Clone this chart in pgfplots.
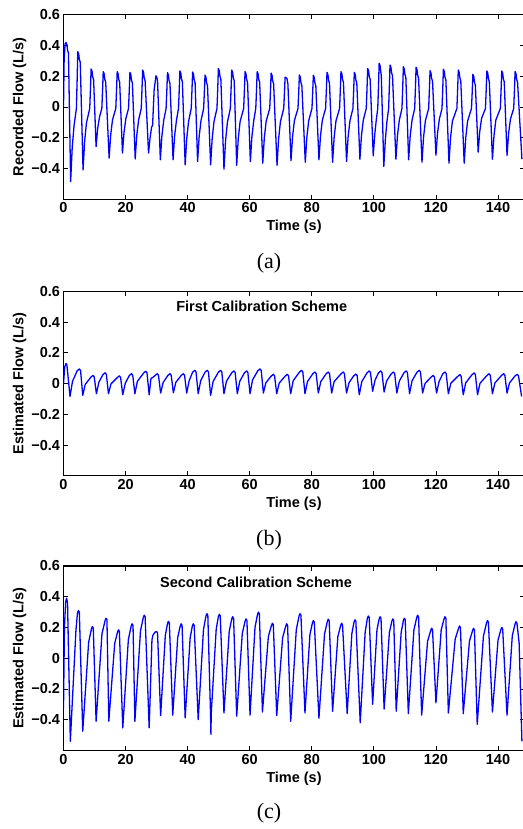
\documentclass[border=0pt]{standalone}
\usepackage{fontspec}
\setmainfont{Liberation Sans}
\newfontfamily\serifcap{Liberation Serif}
\usepackage{pgfplots}
\pgfplotsset{compat=1.18}
\pgfplotsset{flowax/.style={
  scale only axis, width=460.9pt, height=184.5pt,
  xmin=0, xmax=148.5, ymin=-0.6, ymax=0.6,
  xtick={0,20,...,140}, xticklabels={0,20,40,60,80,100,120,140},
  ytick={-0.4,-0.2,0,0.2,0.4,0.6}, yticklabels={−0.4,−0.2,0,0.2,0.4,0.6},
  tick align=inside, tick pos=both, ticklabel pos=left,
  major tick length=4.5pt,
  tick style={black, line width=0.8pt},
  axis line style={line width=1.1pt},
  tick label style={font=\bfseries\fontsize{14.5}{16}\selectfont},
  label style={font=\bfseries\fontsize{14.5}{16}\selectfont},
  xlabel={Time (s)},
  xlabel style={at={(axis description cs:0.5,-0.152)}, anchor=center},
  ylabel style={at={(axis description cs:-0.095,0.5)}, anchor=center},
  clip mode=individual,
  anchor=north west,
}}
\begin{document}
\begin{tikzpicture}
% ---------------- (a)
\begin{axis}[flowax, at={(63.5pt,-14.7pt)}, ylabel={Recorded Flow (L/s)}]
\addplot[blue, line width=1.3pt, line join=round] coordinates {
(0,0) (0.2,0.30) (0.5,0.41) (0.8,0.42) (1.1,0.405) (1.3,0.37) (1.6,0.35) (2.3,-0.485) (2.8,-0.267) (3.4,-0.121) (4.15,-0.01) (4.4,0.18)
(4.6,0.36) (4.9,0.345) (5.1,0.31) (5.4,0.29) (6.3,-0.41) (6.8,-0.226) (7.4,-0.103) (8.45,-0.01) (8.7,0.124)
(8.9,0.247) (9.2,0.232) (9.4,0.197) (9.7,0.177) (10.5,-0.258) (11.0,-0.142) (11.6,-0.065) (12.35,-0.01) (12.6,0.115)
(12.8,0.23) (13.1,0.215) (13.3,0.18) (13.6,0.16) (14.7,-0.333) (15.2,-0.183) (15.8,-0.083) (16.85,-0.01) (17.1,0.115)
(17.3,0.23) (17.6,0.215) (17.8,0.18) (18.1,0.16) (19.0,-0.30) (19.5,-0.165) (20.1,-0.075) (20.95,-0.01) (21.2,0.113)
(21.4,0.225) (21.7,0.21) (21.9,0.175) (22.2,0.155) (23.1,-0.338) (23.6,-0.186) (24.2,-0.085) (25.05,-0.01) (25.3,0.12)
(25.5,0.24) (25.8,0.225) (26.0,0.19) (26.3,0.17) (27.4,-0.30) (27.9,-0.2) (28.4,-0.13) (28.7,-0.12) (29.2,0.11)
(29.8,0.203) (30.1,0.19) (30.3,0.17) (31.2,-0.344) (31.7,-0.189) (32.3,-0.086) (33.05,-0.01) (33.3,0.11)
(33.5,0.223) (33.8,0.208) (34.0,0.173) (34.3,0.153) (35.3,-0.344) (35.8,-0.189) (36.4,-0.086) (37.05,-0.01) (37.3,0.117)
(37.5,0.234) (37.8,0.219) (38.0,0.184) (38.3,0.164) (39.2,-0.377) (39.7,-0.207) (40.3,-0.094) (41.15,-0.01) (41.4,0.113)
(41.6,0.227) (41.9,0.212) (42.1,0.177) (42.4,0.157) (43.2,-0.355) (43.7,-0.195) (44.3,-0.089) (45.15,-0.01) (45.4,0.104)
(45.6,0.208) (45.9,0.193) (46.1,0.158) (46.4,0.138) (47.4,-0.377) (47.9,-0.207) (48.5,-0.094) (49.45,-0.01) (49.7,0.125)
(49.9,0.25) (50.2,0.235) (50.4,0.20) (50.7,0.18) (51.7,-0.405) (52.2,-0.223) (52.8,-0.101) (53.75,-0.01) (54.0,0.12)
(54.2,0.24) (54.5,0.225) (54.7,0.19) (55.0,0.17) (55.8,-0.38) (56.3,-0.209) (56.9,-0.095) (58.05,-0.01) (58.3,0.115)
(58.5,0.23) (58.8,0.215) (59.0,0.18) (59.3,0.16) (60.2,-0.355) (60.7,-0.195) (61.3,-0.089) (61.95,-0.01) (62.2,0.115)
(62.4,0.23) (62.7,0.215) (62.9,0.18) (63.2,0.16) (64.2,-0.366) (64.7,-0.201) (65.3,-0.092) (66.45,-0.01) (66.7,0.11)
(66.9,0.22) (67.2,0.205) (67.4,0.17) (67.7,0.15) (68.8,-0.38) (69.3,-0.209) (69.9,-0.095) (70.95,-0.01) (71.2,0.097)
(71.4,0.193) (71.7,0.19) (72.0,0.185) (72.3,0.15) (73.3,-0.35) (73.8,-0.193) (74.4,-0.088) (75.55,-0.01) (75.8,0.104)
(76.0,0.208) (76.3,0.193) (76.5,0.158) (76.8,0.138) (77.9,-0.36) (78.4,-0.198) (79.0,-0.09) (80.05,-0.01) (80.3,0.103)
(80.5,0.206) (80.8,0.191) (81.0,0.156) (81.3,0.136) (82.3,-0.344) (82.8,-0.189) (83.4,-0.086) (84.45,-0.01) (84.7,0.113)
(84.9,0.225) (85.2,0.21) (85.4,0.175) (85.7,0.155) (86.7,-0.36) (87.2,-0.198) (87.8,-0.09) (88.95,-0.01) (89.2,0.115)
(89.4,0.23) (89.7,0.215) (89.9,0.18) (90.2,0.16) (91.2,-0.355) (91.7,-0.195) (92.3,-0.089) (93.25,-0.01) (93.5,0.113)
(93.7,0.225) (94.0,0.21) (94.2,0.175) (94.5,0.155) (95.5,-0.34) (96.0,-0.187) (96.6,-0.085) (97.55,-0.01) (97.8,0.125)
(98.0,0.25) (98.3,0.235) (98.5,0.20) (98.8,0.18) (99.8,-0.318) (100.3,-0.175) (100.8,-0.08) (101.25,-0.01) (101.5,0.142)
(101.7,0.284) (102.0,0.269) (102.4,0.2) (103.2,-0.387) (103.7,-0.213) (104.2,-0.097) (104.75,-0.01) (105.0,0.137)
(105.2,0.273) (105.5,0.258) (105.7,0.223) (106.0,0.203) (107.1,-0.34) (107.6,-0.187) (108.2,-0.085) (109.05,-0.01) (109.3,0.131)
(109.5,0.262) (109.8,0.247) (110.0,0.212) (110.3,0.192) (111.2,-0.344) (111.7,-0.189) (112.3,-0.086) (113.15,-0.01) (113.4,0.129)
(113.6,0.258) (113.9,0.243) (114.1,0.208) (114.4,0.188) (115.5,-0.36) (116.0,-0.198) (116.6,-0.09) (117.65,-0.01) (117.9,0.118)
(118.1,0.236) (118.4,0.221) (118.6,0.186) (118.9,0.166) (120.0,-0.314) (120.5,-0.173) (121.1,-0.079) (121.95,-0.01) (122.2,0.123)
(122.4,0.245) (122.7,0.23) (122.9,0.195) (123.2,0.175) (124.2,-0.366) (124.7,-0.201) (125.3,-0.092) (126.75,-0.01) (127.0,0.12)
(127.2,0.24) (127.5,0.225) (127.7,0.19) (128.0,0.17) (129.1,-0.366) (129.6,-0.201) (130.2,-0.092) (131.45,-0.01) (131.7,0.106)
(131.9,0.212) (132.2,0.197) (132.4,0.162) (132.7,0.142) (133.6,-0.294) (134.1,-0.162) (134.7,-0.074) (135.95,-0.01) (136.2,0.117)
(136.4,0.234) (136.7,0.219) (136.9,0.184) (137.2,0.164) (138.2,-0.34) (138.7,-0.187) (139.3,-0.085) (140.75,-0.01) (141.0,0.117)
(141.2,0.234) (141.5,0.219) (141.7,0.184) (142.0,0.164) (142.9,-0.316) (143.4,-0.174) (144.0,-0.079) (145.05,-0.01) (145.3,0.115)
(145.5,0.23) (145.8,0.215) (146.0,0.18) (146.3,0.16) (147.7,-0.34)
};
\node[font=\serifcap\fontsize{22}{24}\selectfont] at (axis description cs:0.446,-0.347) {(a)};
\end{axis}
% ---------------- (b)
\begin{axis}[flowax, at={(63.5pt,-291.3pt)}, ylabel={Estimated Flow (L/s)}]
\addplot[blue, line width=1.3pt, line join=round] coordinates {
(0,0.0) (0.4,0.11) (0.8,0.13) (1.1,0.12) (2.1,-0.084)
(2.9,0.014) (4.4,0.083) (5.1,0.095) (5.5,0.085) (6.2,-0.077)
(7.0,-0.006) (8.8,0.041) (9.5,0.053) (9.9,0.043) (10.6,-0.066)
(11.4,0.009) (12.7,0.058) (13.4,0.07) (13.8,0.06) (14.5,-0.066)
(15.3,-0.002) (17.3,0.038) (18.0,0.05) (18.4,0.04) (19.1,-0.073)
(19.9,0.002) (21.2,0.052) (21.9,0.064) (22.3,0.054) (23.0,-0.066)
(23.8,0.014) (25.8,0.068) (26.5,0.08) (26.9,0.07) (27.6,-0.073)
(28.2,0.035) (28.6,0.037) (29.5,0.052) (30.2,0.064) (30.6,0.054) (31.3,-0.062)
(32.1,0.007) (33.6,0.052) (34.3,0.064) (34.7,0.054) (35.4,-0.06)
(36.2,0.008) (37.9,0.052) (38.6,0.064) (39.0,0.054) (39.7,-0.062)
(40.5,0.019) (41.6,0.074) (42.3,0.086) (42.7,0.076) (43.4,-0.066)
(44.2,0.018) (45.6,0.074) (46.3,0.086) (46.7,0.076) (47.4,-0.077)
(48.2,0.013) (49.9,0.074) (50.6,0.086) (51.0,0.076) (51.7,-0.066)
(52.5,0.015) (54.2,0.07) (54.9,0.082) (55.3,0.072) (56.0,-0.066)
(56.8,0.015) (58.3,0.07) (59.0,0.082) (59.4,0.072) (60.1,-0.066)
(60.9,0.023) (62.6,0.083) (63.3,0.095) (63.7,0.085) (64.4,-0.062)
(65.2,0.005) (66.9,0.048) (67.6,0.06) (68.0,0.05) (68.7,-0.066)
(69.5,0.003) (71.4,0.048) (72.1,0.06) (72.5,0.05) (73.2,-0.066)
(74.0,0.018) (76.0,0.074) (76.7,0.086) (77.1,0.076) (77.8,-0.066)
(78.6,0.012) (80.3,0.063) (81.0,0.075) (81.4,0.065) (82.1,-0.062)
(82.9,0.013) (84.6,0.063) (85.3,0.075) (85.7,0.065) (86.4,-0.062)
(87.2,0.013) (89.4,0.063) (90.1,0.075) (90.5,0.065) (91.2,-0.062)
(92.0,0.006) (93.5,0.05) (94.2,0.062) (94.6,0.052) (95.3,-0.073)
(96.1,0.012) (97.8,0.07) (98.5,0.082) (98.9,0.072) (99.6,-0.05)
(100.4,0.023) (101.5,0.07) (102.2,0.082) (102.6,0.072) (103.3,-0.055)
(104.1,0.017) (105.6,0.063) (106.3,0.075) (106.7,0.065) (107.4,-0.062)
(108.2,0.016) (109.7,0.07) (110.4,0.082) (110.8,0.072) (111.5,-0.066)
(112.3,0.018) (113.9,0.074) (114.6,0.086) (115.0,0.076) (115.7,-0.062)
(116.5,0.001) (118.4,0.041) (119.1,0.053) (119.5,0.043) (120.2,-0.062)
(121.0,0.013) (122.2,0.063) (122.9,0.075) (123.3,0.065) (124.0,-0.066)
(124.8,0.002) (127.0,0.046) (127.7,0.058) (128.1,0.048) (128.8,-0.073)
(129.6,0.005) (131.6,0.057) (132.3,0.069) (132.7,0.059) (133.4,-0.073)
(134.2,0.002) (136.4,0.052) (137.1,0.064) (137.5,0.054) (138.2,-0.066)
(139.0,0.004) (141.1,0.052) (141.8,0.064) (142.2,0.054) (142.9,-0.062)
(143.7,0.004) (145.5,0.05) (146.2,0.06) (146.6,0.05) (147.6,-0.084)
};
\node[anchor=west, font=\bfseries\fontsize{14.5}{16}\selectfont] at (axis cs:35.2,0.505) {First Calibration Scheme};
\node[font=\serifcap\fontsize{22}{24}\selectfont] at (axis description cs:0.446,-0.347) {(b)};
\end{axis}
% ---------------- (c)
\begin{axis}[flowax, at={(63.5pt,-566pt)}, ylabel={Estimated Flow (L/s)}]
\addplot[blue, line width=1.3pt, line join=round] coordinates {
(0,-0.33) (0.3,0.2) (0.7,0.37) (1.0,0.39) (1.3,0.36) (2.2,-0.54)
(4.0,0.18) (4.5,0.295) (4.8,0.31) (5.1,0.30) (6.2,-0.475)
(8.1,0.104) (9.0,0.191) (9.3,0.206) (9.6,0.196) (10.5,-0.41)
(12.4,0.16) (13.4,0.245) (13.7,0.26) (14.0,0.25) (14.6,-0.41)
(16.5,0.096) (17.4,0.17) (17.7,0.185) (18.0,0.175) (19.1,-0.453)
(20.9,0.122) (21.8,0.209) (22.1,0.224) (22.4,0.214) (23.0,-0.41)
(24.8,0.177) (25.7,0.265) (26.0,0.28) (26.3,0.27) (27.6,-0.453)
(28.5,0.12) (28.8,0.15) (29.5,0.17) (30.0,0.174) (30.3,0.164) (31.3,-0.373)
(32.8,0.148) (33.5,0.225) (33.8,0.24) (34.1,0.23) (35.2,-0.37)
(36.8,0.135) (37.6,0.209) (37.9,0.224) (38.2,0.214) (39.2,-0.388)
(40.8,0.132) (41.5,0.209) (41.8,0.224) (42.1,0.214) (43.4,-0.40)
(45.1,0.187) (45.9,0.275) (46.2,0.29) (46.5,0.28) (47.4,-0.38) (47.5,-0.496) (47.6,-0.36)
(49.2,0.189) (49.9,0.271) (50.2,0.286) (50.5,0.276) (51.7,-0.356)
(53.4,0.176) (54.2,0.255) (54.5,0.27) (54.8,0.26) (55.8,-0.377)
(57.6,0.161) (58.5,0.241) (58.8,0.256) (59.1,0.246) (60.1,-0.37)
(61.7,0.20) (62.5,0.285) (62.8,0.30) (63.1,0.29) (64.1,-0.35)
(66.0,0.141) (67.0,0.213) (67.3,0.228) (67.6,0.218) (68.7,-0.373)
(70.6,0.134) (71.6,0.209) (71.9,0.224) (72.2,0.214) (73.2,-0.41)
(75.0,0.185) (75.9,0.275) (76.2,0.29) (76.5,0.28) (77.8,-0.356)
(79.4,0.155) (80.2,0.23) (80.5,0.245) (80.8,0.235) (82.3,-0.39)
(84.1,0.157) (85.0,0.239) (85.3,0.254) (85.6,0.244) (86.7,-0.345)
(88.4,0.142) (89.3,0.213) (89.6,0.228) (89.9,0.218) (91.4,-0.36)
(92.9,0.159) (93.6,0.235) (93.9,0.25) (94.2,0.24) (95.6,-0.42)
(97.2,0.171) (97.9,0.26) (98.2,0.275) (98.5,0.265) (99.6,-0.30)
(101.0,0.185) (101.7,0.255) (102.0,0.27) (102.3,0.26) (103.3,-0.33)
(105.0,0.168) (105.8,0.241) (106.1,0.256) (106.4,0.246) (107.2,-0.345)
(108.8,0.169) (109.5,0.245) (109.8,0.26) (110.1,0.25) (111.1,-0.36)
(112.9,0.184) (113.8,0.265) (114.1,0.28) (114.4,0.27) (115.4,-0.37)
(117.3,0.11) (118.3,0.18) (118.6,0.195) (118.9,0.185) (120.0,-0.29)
(121.7,0.186) (122.6,0.255) (122.9,0.27) (123.2,0.26) (124.0,-0.356)
(126.2,0.125) (127.3,0.195) (127.6,0.21) (127.9,0.2) (128.8,-0.36)
(130.8,0.112) (131.8,0.18) (132.1,0.195) (132.4,0.185) (133.3,-0.43)
(135.3,0.144) (136.3,0.23) (136.6,0.245) (136.9,0.235) (138.2,-0.35)
(140.0,0.118) (140.9,0.185) (141.2,0.2) (141.5,0.19) (142.9,-0.37)
(144.6,0.147) (145.5,0.223) (145.8,0.238) (146.1,0.228) (146.8,0.1) (147.7,-0.54)
};
\node[anchor=west, font=\bfseries\fontsize{14.5}{16}\selectfont] at (axis cs:30.0,0.494) {Second Calibration Scheme};
\node[font=\serifcap\fontsize{22}{24}\selectfont] at (axis description cs:0.446,-0.34) {(c)};
\end{axis}
\pgfresetboundingbox
\path[use as bounding box] (0,0) rectangle (522pt,-829pt);
\end{tikzpicture}
\end{document}
